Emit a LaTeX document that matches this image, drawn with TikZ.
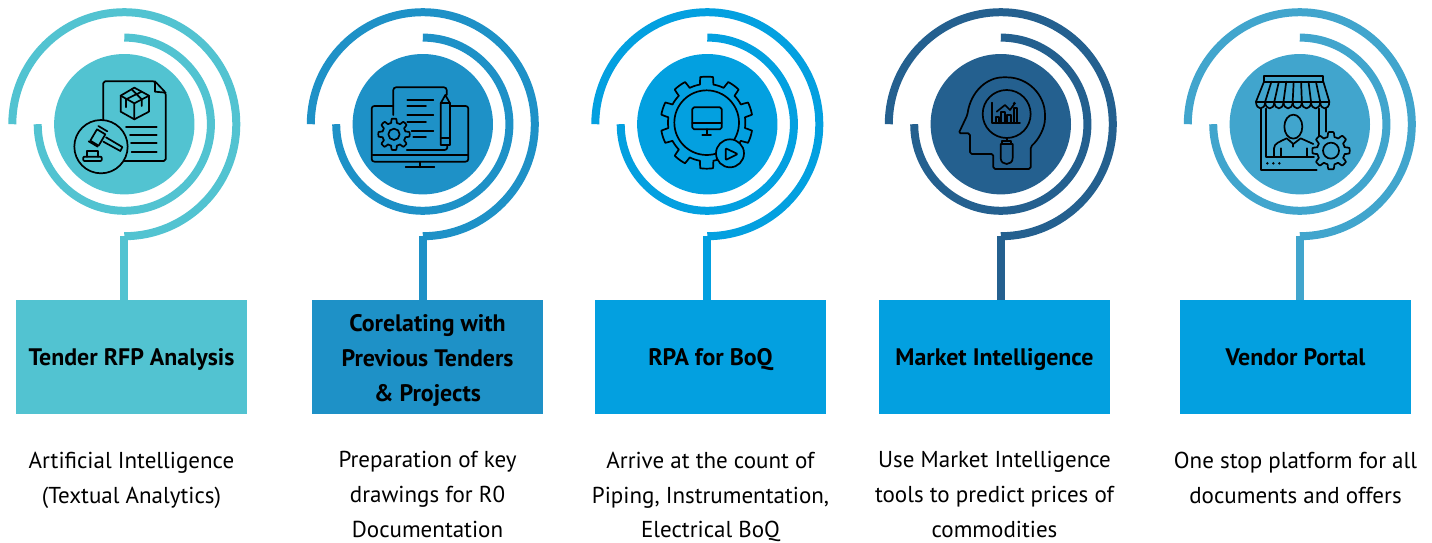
\documentclass[tikz,border=0pt]{standalone}
\usepackage{fontspec}
\setmainfont{PT Sans}
\usetikzlibrary{positioning}
\definecolor{tendercol}{HTML}{52C3D1}
\definecolor{corelcol}{HTML}{1E91C7}
\definecolor{rpacol}{HTML}{03A0E0}
\definecolor{marketcol}{HTML}{24608F}
\definecolor{vendorcol}{HTML}{41A5CD}
\tikzstyle{disc} = [circle, minimum size = 2.808cm, inner sep = 0pt]
\tikzstyle{ring} = [line width = 0.16cm]
\tikzstyle{banner} = [rectangle, minimum width = 4.62cm, minimum height = 2.28cm, inner sep = 0pt, align = center, font = \fontsize{13.6pt}{19.9pt}\selectfont\bfseries, execute at begin node = \rule{0pt}{16pt}\strut, execute at end node = \strut]
\tikzstyle{blurb} = [inner sep = 0pt, align = center, font = \fontsize{13.1pt}{19.9pt}\selectfont, execute at begin node = \strut]
\tikzstyle{icon} = [line width = 0.034cm, line cap = round, line join = round, black]
\tikzstyle{zoomed} = [x = 0.00667cm, y = -0.00667cm]
\begin{document}
\begin{tikzpicture}[x = 0.02cm, y = 0.02cm, node distance = 0.74cm]
        \useasboundingbox (0,0) rectangle (1432,542);
        % discs
        \node (d1) [disc, fill=tendercol] at (124.3,417.8) {};
        \node (d2) [disc, fill=corelcol] at (422.8,417.8) {};
        \node (d3) [disc, fill=rpacol] at (707.3,417.8) {};
        \node (d4) [disc, fill=marketcol] at (1000.8,417.8) {};
        \node (d5) [disc, fill=vendorcol] at (1299.8,417.8) {};
        % banners
        \node (b1) [banner, fill=tendercol] at (131.5,185) {Tender RFP Analysis};
        \node (b2) [banner, fill=corelcol] at (427.5,185) {\rule{0pt}{17.3pt}Corelating with\\Previous Tenders\\\& Projects};
        \node (b3) [banner, fill=rpacol] at (710.5,185) {RPA for BoQ};
        \node (b4) [banner, fill=rpacol] at (994.5,185) {Market Intelligence};
        \node (b5) [banner, fill=rpacol] at (1295.5,185) {Vendor Portal};
        % texts
        \node (t1) [blurb, below=of b1, anchor=north] {Artificial Intelligence\\(Textual Analytics)};
        \node (t2) [blurb, below=of b2, anchor=north] {Preparation of key\\drawings for R0\\Documentation};
        \node (t3) [blurb, below=of b3, anchor=north] {Arrive at the count of\\Piping, Instrumentation,\\Electrical BoQ};
        \node (t4) [blurb, below=of b4, anchor=north] {Use Market Intelligence\\tools to predict prices of\\commodities};
        \node (t5) [blurb, below=of b5, anchor=north] {One stop platform for all\\documents and offers};
        % rings
        \draw [ring, tendercol] (d1.center) ++(-112,0) arc (180:-90:112) coordinate (s1);
        \draw [ring, tendercol] (d1.center) ++(0,86.6) arc (90:-180:86.6);
        \draw [ring, corelcol] (d2.center) ++(-112,0) arc (180:-90:112) coordinate (s2);
        \draw [ring, corelcol] (d2.center) ++(0,86.6) arc (90:-180:86.6);
        \draw [ring, rpacol] (d3.center) ++(-112,0) arc (180:-90:112) coordinate (s3);
        \draw [ring, rpacol] (d3.center) ++(0,86.6) arc (90:-180:86.6);
        \draw [ring, marketcol] (d4.center) ++(-112,0) arc (180:-90:112) coordinate (s4);
        \draw [ring, marketcol] (d4.center) ++(0,86.6) arc (90:-180:86.6);
        \draw [ring, vendorcol] (d5.center) ++(-112,0) arc (180:-90:112) coordinate (s5);
        \draw [ring, vendorcol] (d5.center) ++(0,86.6) arc (90:-180:86.6);
        % stems
        \draw [ring, tendercol] (s1) -- (s1 |- b1.north);
        \draw [ring, corelcol] (s2) -- (s2 |- b2.north);
        \draw [ring, rpacol] (s3) -- (s3 |- b3.north);
        \draw [ring, marketcol] (s4) -- (s4 |- b4.north);
        \draw [ring, vendorcol] (s5) -- (s5 |- b5.north);
        % document and gavel
        \begin{scope}[shift={(0,542)}, zoomed, icon]
                \draw [rounded corners=1pt] (310,365) -- (310,244) -- (465,244) -- (497,278) -- (497,483) -- (370,483);
                \draw (465,244) -- (465,275) -- (497,278);
                \draw (403,263) -- (447,287) -- (447,335) -- (403,358) -- (362,335) -- (362,287) -- cycle;
                \draw (362,287) -- (403,310) -- (447,287) (403,310) -- (403,358);
                \draw (378,322) -- (378,298) -- (425,275) (395,268) -- (425,298) -- (425,318);
                \draw (378,380) -- (470,380) (390,405) -- (470,405) (393,430) -- (470,430) (395,455) -- (470,455);
                \draw [fill=tendercol] (303,440) circle (80);
                \draw (291,388) -- (316,403) -- (296,437) -- (271,422) -- cycle;
                \draw (295,378) -- (322,394) (266,424) -- (293,440);
                \draw (318,412) -- (367,441) -- (361,453) -- (310,425);
                \draw [rounded corners=0.5pt] (250,470) rectangle (305,483);
                \draw (260,470) -- (260,453) -- (295,453) -- (295,470);
        \end{scope}
        % monitor, sheet and pencil
        \begin{scope}[shift={(300,542)}, zoomed, icon]
                \draw [rounded corners=1.5pt] (280,318) -- (215,318) -- (215,485) -- (505,485) -- (505,318) -- (450,318);
                \draw (218,465) -- (503,465);
                \draw (360,485) -- (360,502) (317,502) -- (403,502);
                \draw [rounded corners=1.5pt] (280,345) -- (280,262) -- (440,262) -- (440,285);
                \draw [rounded corners=1.5pt] (320,450) -- (442,450) -- (442,435);
                \draw (322,300) -- (400,300) (322,318) -- (378,318) (322,346) -- (400,346);
                \draw (322,365) -- (378,365) (335,392) -- (400,392) (340,410) -- (378,410);
                \draw [fill=corelcol] (422,310) -- (436,285) -- (450,310) -- (450,435) -- (422,435) -- cycle;
                \draw (422,310) -- (450,310) (422,415) -- (450,415);
                \draw [shift={(282,403)}, fill=corelcol] plot [domain=0:360, samples=181] (\x:{41+6*max(-1,min(1,2.5*cos(8*\x))}) -- cycle;
                \draw (282,403) circle (17);
        \end{scope}
        % cog with screen
        \begin{scope}[shift={(585,542)}, zoomed, icon]
                \draw [shift={(365,368)}] plot [domain=0:360, samples=361] (\x:{127-11*max(-1,min(1,6*cos(10*\x))}) -- cycle;
                \draw (365,368) circle (97);
                \draw [rounded corners=1pt] (322,322) rectangle (410,388);
                \draw (322,370) -- (410,370) (365,388) -- (365,405) (352,405) -- (378,405);
                \draw [fill=rpacol] (435,460) circle (42);
                \draw [rounded corners=0.5pt] (422,445) -- (458,462) -- (422,480) -- cycle;
        \end{scope}
        % head and magnifier
        \begin{scope}[shift={(880,542)}, zoomed, icon]
                \draw [rounded corners=1pt] (340,462) -- (270,462) -- (270,400) -- (236,400) -- (262,345) .. controls (272,275) and (320,232) .. (375,232) .. controls (445,232) and (495,285) .. (495,350) .. controls (495,385) and (475,420) .. (452,440) -- (452,507) -- (340,507) -- cycle;
                \draw (380,342) circle (72);
                \draw (380,414) -- (380,422) (366,422) -- (394,422) -- (394,432) -- (366,432) -- cycle;
                \draw (362,432) -- (398,432) -- (398,474) .. controls (398,498) and (362,498) .. (362,474) -- cycle;
                \draw (337,308) -- (337,370) -- (420,370);
                \draw (348,370) -- (348,352) -- (356,352) -- (356,370) (364,370) -- (364,335) -- (374,335) -- (374,370);
                \draw (382,370) -- (382,345) -- (392,345) -- (392,370) (401,370) -- (401,325) -- (411,325) -- (411,370);
                \draw (350,335) -- (375,315) -- (390,330) -- (403,312);
                \fill (403,310) circle (5);
        \end{scope}
        % shop front and vendor
        \begin{scope}[shift={(1170,542)}, zoomed, icon]
                \draw (282,228) rectangle (460,245);
                \foreach \i in {0,...,8} \draw ({282+22.25*\i},245) -- ({258+27.5*\i},305);
                \draw (258,305) -- (478,305);
                \foreach \i in {0,...,7} \draw ({258+27.5*\i},305) .. controls ({258+27.5*\i},332) and ({285.5+27.5*\i},332) .. ({285.5+27.5*\i},305);
                \draw (272,326) -- (272,510) -- (440,510) (288,326) -- (288,472) -- (432,472);
                \draw (447,326) -- (447,408) (468,326) -- (468,395);
                \draw (370,380) ellipse (27 and 36);
                \draw (312,470) -- (312,445) .. controls (312,430) and (330,425) .. (350,415) -- (370,432) -- (392,415) .. controls (410,425) .. (430,432);
                \draw (332,470) -- (332,445) (410,470) -- (410,445) (370,432) -- (370,440);
                \fill (292,490) circle (4) (310,490) circle (4) (328,490) circle (4);
                \draw [shift={(483,452)}, fill=vendorcol] plot [domain=0:360, samples=181] (\x:{49+7*max(-1,min(1,2.5*cos(8*\x))}) -- cycle;
                \draw (483,452) circle (24);
        \end{scope}
\end{tikzpicture}
\end{document}
